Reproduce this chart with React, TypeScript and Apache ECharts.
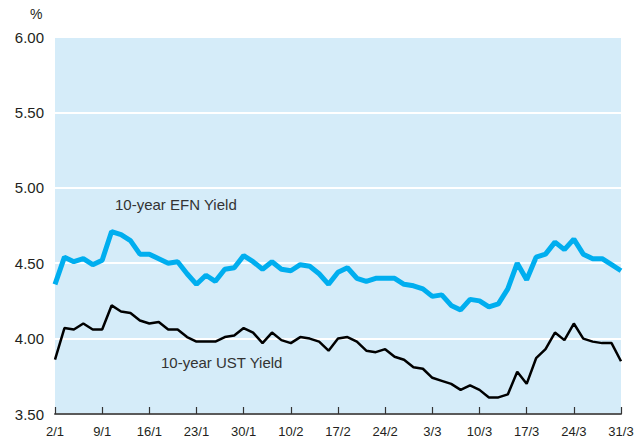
import React, { useEffect, useRef } from "react";
import * as echarts from "echarts";

const dates: string[] = [
  "2/1","5/1","6/1","7/1","8/1",
  "9/1","12/1","13/1","14/1","15/1",
  "16/1","19/1","20/1","21/1","22/1",
  "23/1","26/1","27/1","28/1","29/1",
  "30/1","2/2","3/2","4/2","5/2",
  "10/2","11/2","12/2","13/2","16/2",
  "17/2","18/2","19/2","20/2","23/2",
  "24/2","25/2","26/2","27/2","2/3",
  "3/3","4/3","5/3","6/3","9/3",
  "10/3","11/3","12/3","13/3","16/3",
  "17/3","18/3","19/3","20/3","23/3",
  "24/3","25/3","26/3","27/3","30/3",
  "31/3",
];

const efnYield: number[] = [
  4.36, 4.54, 4.51, 4.53, 4.49, 4.52, 4.71, 4.69, 4.65, 4.56,
  4.56, 4.53, 4.50, 4.51, 4.43, 4.36, 4.42, 4.38, 4.46, 4.47,
  4.55, 4.51, 4.46, 4.51, 4.46, 4.45, 4.49, 4.48, 4.43, 4.36,
  4.44, 4.47, 4.40, 4.38, 4.40, 4.40, 4.40, 4.36, 4.35, 4.33,
  4.28, 4.29, 4.22, 4.19, 4.26, 4.25, 4.21, 4.23, 4.33, 4.50,
  4.39, 4.54, 4.56, 4.64, 4.59, 4.66, 4.56, 4.53, 4.53, 4.49,
  4.45,
];

const ustYield: number[] = [
  3.86, 4.07, 4.06, 4.10, 4.06, 4.06, 4.22, 4.18, 4.17, 4.12,
  4.10, 4.11, 4.06, 4.06, 4.01, 3.98, 3.98, 3.98, 4.01, 4.02,
  4.07, 4.04, 3.97, 4.04, 3.99, 3.97, 4.01, 4.00, 3.98, 3.92,
  4.00, 4.01, 3.98, 3.92, 3.91, 3.93, 3.88, 3.86, 3.81, 3.80,
  3.74, 3.72, 3.70, 3.66, 3.69, 3.66, 3.61, 3.61, 3.63, 3.78,
  3.70, 3.87, 3.93, 4.04, 3.99, 4.10, 4.00, 3.98, 3.97, 3.97,
  3.85,
];

const seriesNames: string[] = ["10-year EFN Yield", "10-year UST Yield"];

const FONT = "'Liberation Sans', Arial, Helvetica, sans-serif";

export default function App() {
  const ref = useRef<HTMLDivElement>(null);
  useEffect(() => {
    if (!ref.current) return;
    const chart = echarts.init(ref.current, undefined, { renderer: "svg" });
    chart.setOption({
      animation: false,
      backgroundColor: "#ffffff",
      grid: {
        left: 55,
        right: 23,
        top: 37,
        bottom: 23,
        show: true,
        backgroundColor: "#d5ecf9",
        borderWidth: 0,
      },
      xAxis: {
        type: "category",
        data: dates,
        boundaryGap: false,
        axisLine: { show: true, lineStyle: { color: "#5a5a5a", width: 2 } },
        axisTick: {
          show: true,
          inside: true,
          length: 7,
          interval: 4,
          lineStyle: { color: "#333333", width: 1.2 },
        },
        axisLabel: {
          interval: 4,
          color: "#231f20",
          fontFamily: FONT,
          fontSize: 13,
          margin: 11,
        },
        splitLine: { show: false },
      },
      yAxis: {
        type: "value",
        min: 3.5,
        max: 6,
        interval: 0.5,
        axisLine: { show: false },
        axisTick: { show: false },
        axisLabel: {
          color: "#231f20",
          fontFamily: FONT,
          fontSize: 15,
          margin: 11,
          formatter: (v: number) => v.toFixed(2),
        },
        splitLine: { show: true, lineStyle: { color: "#ffffff", width: 2 } },
      },
      graphic: [
        {
          type: "text",
          left: 30,
          top: 7,
          style: { text: "%", fill: "#231f20", font: `14px ${FONT}` },
        },
        {
          type: "text",
          left: 115,
          top: 197,
          style: { text: seriesNames[0], fill: "#333333", font: `15px ${FONT}` },
        },
        {
          type: "text",
          left: 161,
          top: 355,
          style: { text: seriesNames[1], fill: "#333333", font: `15px ${FONT}` },
        },
      ],
      series: [
        {
          name: seriesNames[0],
          type: "line",
          data: efnYield,
          symbol: "none",
          lineStyle: { color: "#00aeef", width: 5 },
          z: 3,
        },
        {
          name: seriesNames[1],
          type: "line",
          data: ustYield,
          symbol: "none",
          lineStyle: { color: "#000000", width: 2.5 },
          z: 4,
        },
      ],
    });
    return () => chart.dispose();
  }, []);
  return (
    <div
      ref={ref}
      style={{ position: "fixed", left: 0, top: 0, width: 644, height: 438 }}
    />
  );
}
